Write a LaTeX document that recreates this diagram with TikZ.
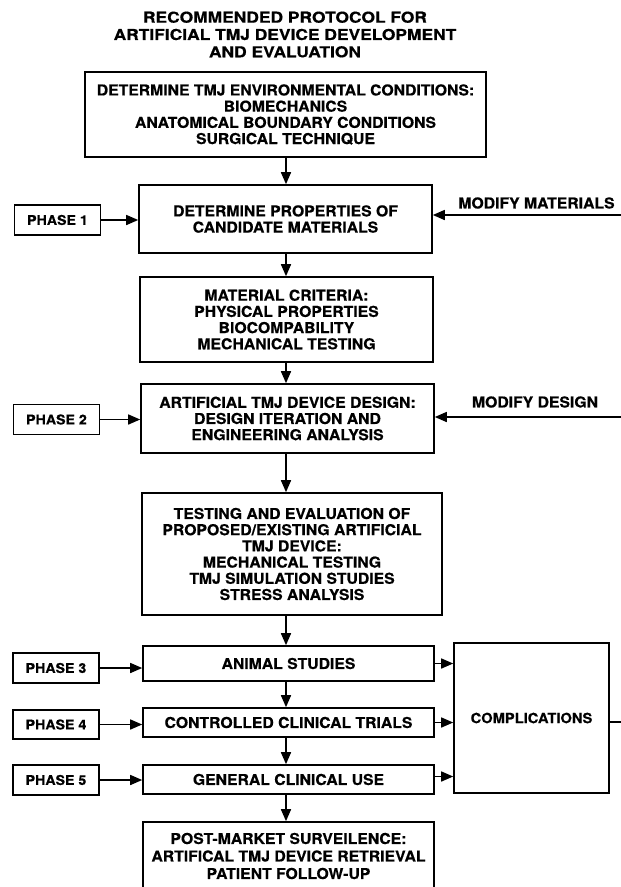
\documentclass[tikz,border=0pt]{standalone}
\usepackage{fontspec}
\setmainfont{TeX Gyre Heros}
\newfontfamily\titlefam{TeX Gyre Heros}[FakeStretch=1.16, FakeBold=0.5]
\newfontfamily\boxfam{TeX Gyre Heros}[FakeStretch=1.05, FakeBold=0.5]
\usetikzlibrary{arrows.meta,calc}
\newcommand\boxfont{\boxfam\fontsize{15}{16.2}\selectfont\bfseries}
\newcommand\smallboxfont{\boxfam\fontsize{13.5}{16}\selectfont\bfseries}
\newcommand\titlefont{\titlefam\fontsize{15}{17.3}\selectfont\bfseries}
\tikzset{
  box/.style={draw, line width=1.6pt, inner sep=0pt, align=center, font=\boxfont},
  phasebox/.style={box, minimum width=86pt, minimum height=30pt, font=\smallboxfont},
  lbl/.style={inner sep=0pt, align=center, font=\boxfont},
  arr/.style={line width=1.5pt, -{Triangle[length=12pt,width=10pt]}},
  plain/.style={line width=1.5pt},
}
\begin{document}
\begin{tikzpicture}[x=1pt,y=-1pt]
\useasboundingbox (0,0) rectangle (621,887);
\coordinate (ax) at (286,0);
% title
\node[lbl, font=\titlefont] (title) at (285,34.5)
  {RECOMMENDED PROTOCOL FOR\\ARTIFICIAL TMJ DEVICE DEVELOPMENT\\AND EVALUATION};
% main column
\node[box, minimum width=401pt, minimum height=85pt] (b1) at (285.5,114.5)
  {DETERMINE TMJ ENVIRONMENTAL CONDITIONS:\\BIOMECHANICS\\ANATOMICAL BOUNDARY CONDITIONS\\SURGICAL TECHNIQUE};
\node[box, minimum width=293pt, minimum height=68pt] (b2) at (285.5,219)
  {DETERMINE PROPERTIES OF\\CANDIDATE MATERIALS};
\node[box, minimum width=293pt, minimum height=85pt] (b3) at (286.5,319.5)
  {MATERIAL CRITERIA:\\PHYSICAL PROPERTIES\\BIOCOMPABILITY\\MECHANICAL TESTING};
\node[box, minimum width=293pt, minimum height=69pt] (b4) at (287.5,418.5)
  {ARTIFICIAL TMJ DEVICE DESIGN:\\DESIGN ITERATION AND\\ENGINEERING ANALYSIS};
\node[box, minimum width=300pt, minimum height=122pt] (b5) at (292,554)
  {TESTING AND EVALUATION OF\\PROPOSED/EXISTING ARTIFICIAL\\TMJ DEVICE:\\MECHANICAL TESTING\\TMJ SIMULATION STUDIES\\STRESS ANALYSIS};
\node[box, minimum width=291pt, minimum height=35pt] (b6) at (288.5,663.5) {ANIMAL STUDIES};
\node[box, minimum width=291pt, minimum height=29pt] (b7) at (288.5,722.5) {CONTROLLED CLINICAL TRIALS};
\node[box, minimum width=291pt, minimum height=29pt] (b8) at (288.5,779.5) {GENERAL CLINICAL USE};
\node[box, minimum width=291pt, minimum height=68pt, font=\boxfam\fontsize{15}{17.5}\selectfont\bfseries] (b9) at (288.5,856)
  {POST-MARKET SURVEILENCE:\\ARTIFICAL TMJ DEVICE RETRIEVAL\\PATIENT FOLLOW-UP};
\node[box, minimum width=155pt, minimum height=150pt, font=\boxfam\fontsize{14}{16}\selectfont\bfseries] (comp) at (531.5,718) {COMPLICATIONS};
% phases
\node[phasebox] (p1) at (57.5,220) {PHASE 1};
\node[phasebox] (p2) at (56.5,419.5) {PHASE 2};
\node[phasebox] (p3) at (56,668) {PHASE 3};
\node[phasebox, minimum height=29pt] (p4) at (56,724.5) {PHASE 4};
\node[phasebox] (p5) at (56,780) {PHASE 5};
% side labels
\node[lbl] (mm) at (536.5,203) {MODIFY MATERIALS};
\node[lbl] (md) at (535,402) {MODIFY DESIGN};
\coordinate (mmin) at (621,215);
\coordinate (mdin) at (621,417);
\coordinate (cout) at (621,722);
% vertical arrows
\draw[arr] (b1.south -| ax) -- (b2.north -| ax);
\draw[arr] (b2.south -| ax) -- (b3.north -| ax);
\draw[arr] (b3.south -| ax) -- (b4.north -| ax);
\draw[arr] (b4.south -| ax) -- (b5.north -| ax);
\draw[arr] (b5.south -| ax) -- (b6.north -| ax);
\draw[arr] (b6.south -| ax) -- (b7.north -| ax);
\draw[arr] (b7.south -| ax) -- (b8.north -| ax);
\draw[arr] (b8.south -| ax) -- (b9.north -| ax);
% phase arrows
\draw[arr] (p1.east) -- (p1.east -| b2.west);
\draw[arr] (p2.east) -- (p2.east -| b4.west);
\draw[arr] (p3.east) -- (p3.east -| b6.west);
\draw[arr] (p4.east) -- (p4.east -| b7.west);
\draw[arr] (p5.east) -- (p5.east -| b8.west);
% feedback arrows
\draw[arr] (mmin) -- (mmin -| b2.east);
\draw[arr] (mdin) -- (mdin -| b4.east);
% complications
\draw[arr] (b6.east) -- (b6.east -| comp.west);
\draw[arr] (b7.east) -- (b7.east -| comp.west);
\draw[arr] ([yshift=3pt]b8.east) -- ([yshift=3pt]b8.east -| comp.west);
\draw[plain] (cout -| comp.east) -- (cout);
\end{tikzpicture}
\end{document}
